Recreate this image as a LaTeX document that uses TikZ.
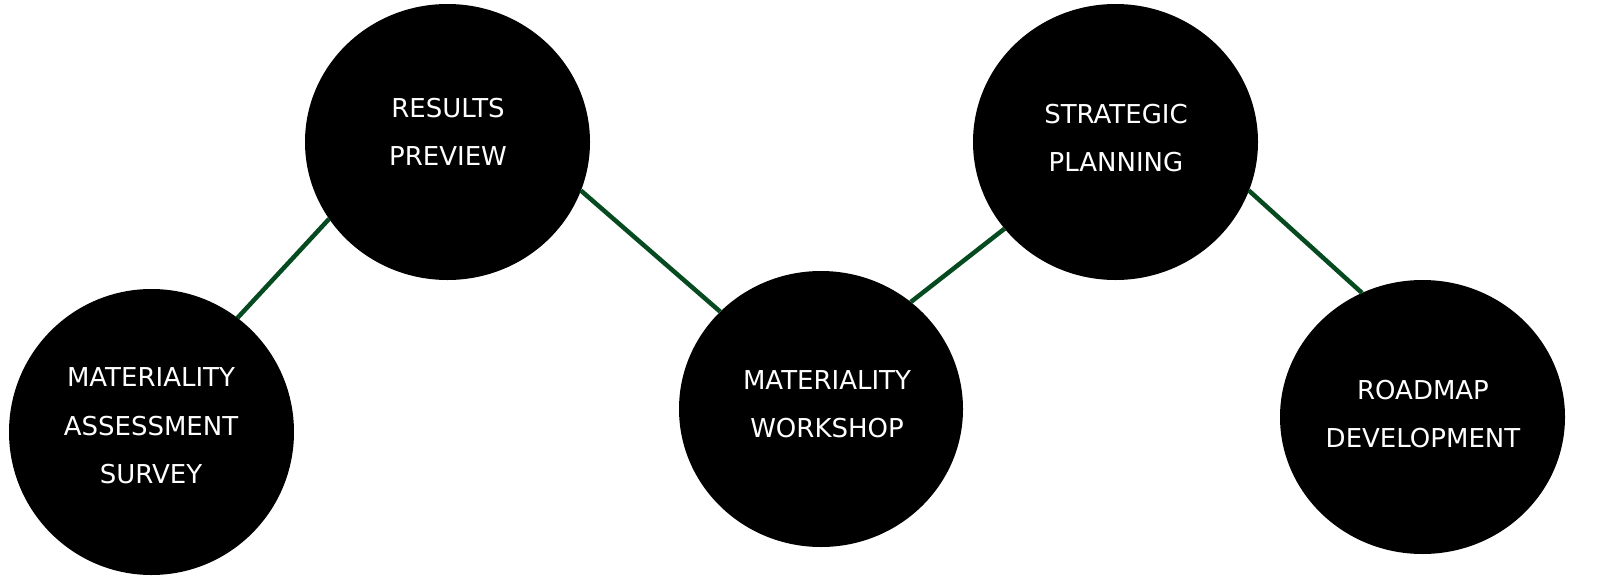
\documentclass[tikz,border=0pt]{standalone}
\usepackage{fontspec}
\setmainfont{DejaVu Sans}
\usetikzlibrary{shapes.geometric}
\definecolor{linkgreen}{RGB}{6,74,32}
\tikzset{
  blob/.style={ellipse, fill=black, draw=none, inner sep=0pt, outer sep=0pt},
  lbl/.style={text=white, align=center, font=\fontsize{26}{48.5}\selectfont, inner sep=0pt},
  link/.style={draw=linkgreen, line width=4.5pt}
}
\begin{document}
\begin{tikzpicture}[x=1pt,y=-1pt]
\useasboundingbox (0,0) rectangle (1612,581);
\node[blob, minimum width=285pt, minimum height=286pt] (c1) at (151.5,432) {};
\node[blob, minimum width=285pt, minimum height=276pt] (c2) at (447.5,142) {};
\node[blob, minimum width=284pt, minimum height=276pt] (c3) at (821,409) {};
\node[blob, minimum width=285pt, minimum height=276pt] (c4) at (1115.5,142) {};
\node[blob, minimum width=285pt, minimum height=274pt] (c5) at (1422.5,417) {};
\node[lbl] (t1) at (151,426) {MATERIALITY\\ASSESSMENT\\SURVEY};
\node[lbl] (t2) at (448,132) {RESULTS\\PREVIEW};
\node[lbl] (t3) at (827,404) {MATERIALITY\\WORKSHOP};
\node[lbl] (t4) at (1116,138) {STRATEGIC\\PLANNING};
\node[lbl] (t5) at (1423,414) {ROADMAP\\DEVELOPMENT};
\draw[link] (c1.53) -- (c2.213);
\draw[link] (c2.-20) -- (c3.136);
\draw[link] (c3.50) -- (c4.218);
\draw[link] (c4.-20) -- (c5.116);
\end{tikzpicture}
\end{document}
